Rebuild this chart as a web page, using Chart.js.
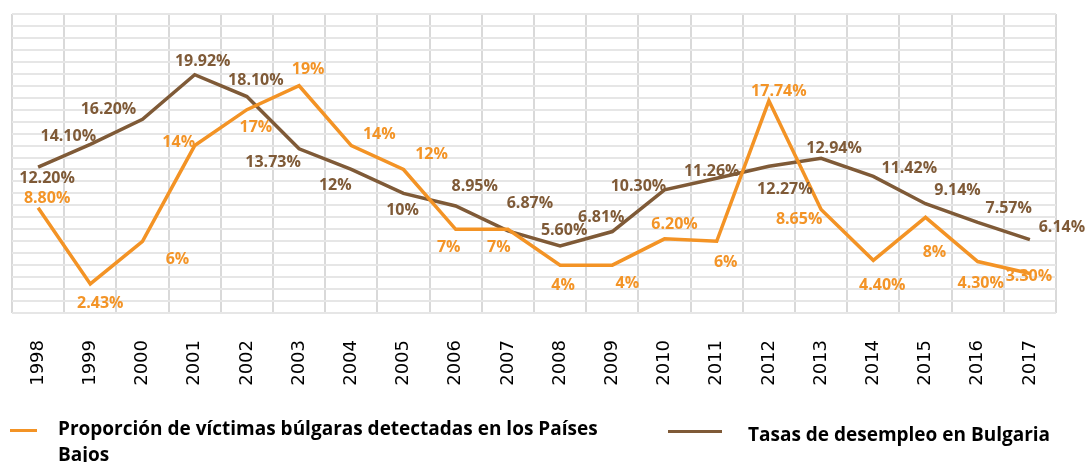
<!DOCTYPE html>
<html>
<head>
<meta charset="utf-8">
<script src="https://cdn.jsdelivr.net/npm/chart.js@4/dist/chart.umd.min.js"></script>
<style>
  body { margin: 0; background: #fff; }
  #wrap { position: relative; width: 1085px; height: 462px; }
  #legend { position: absolute; left: 0; top: 413px; width: 1085px; font: bold 19px "Open Sans", sans-serif; color: #000; }
  .item { position: absolute; line-height: 26px; }
  .sw { position: absolute; height: 3px; }
</style>
</head>
<body>
<div id="wrap">
  <canvas id="lineChart" width="1085" height="462"></canvas>
  <div id="legend"></div>
</div>
<script>
const years = ["1998", "1999", "2000", "2001", "2002", "2003", "2004", "2005", "2006", "2007",
  "2008", "2009", "2010", "2011", "2012", "2013", "2014", "2015", "2016", "2017"];

// Proporción de víctimas búlgaras (Países Bajos), %
const victimas = [8.80, 2.43, 6, 14, 17, 19, 14, 12, 7, 7, 4, 4, 6.20, 6, 17.74, 8.65, 4.40, 8, 4.30, 3.30];
const victimasLabels = ["8.80%", "2.43%", "6%", "14%", "17%", "19%", "14%", "12%", "7%", "7%",
  "4%", "4%", "6.20%", "6%", "17.74%", "8.65%", "4.40%", "8%", "4.30%", "3.30%"];

// Tasas de desempleo en Bulgaria, %
const desempleo = [12.20, 14.10, 16.20, 19.92, 18.10, 13.73, 12, 10, 8.95, 6.87,
  5.60, 6.81, 10.30, 11.26, 12.27, 12.94, 11.42, 9.14, 7.57, 6.14];
const desempleoLabels = ["12.20%", "14.10%", "16.20%", "19.92%", "18.10%", "13.73%", "12%", "10%", "8.95%", "6.87%",
  "5.60%", "6.81%", "10.30%", "11.26%", "12.27%", "12.94%", "11.42%", "9.14%", "7.57%", "6.14%"];

// desplazamiento de cada etiqueta respecto a su punto (px)
const victimasOffsets = [[9, -9], [10, 20], [35, 18], [-16, -3], [9, 18], [9, -16], [28, -11], [28, -15], [-7, 18], [-9, 18],
  [3, 20], [15, 18], [10, -14], [9, 21], [10, -9], [-22, 10], [9, 25], [9, 35], [3, 22], [-1, 3]];
const desempleoOffsets = [[9, 11], [-22, -8], [-34, -10], [8, -13], [9, -16], [-26, 14], [-16, 16], [-1, 17], [19, -20], [22, -27],
  [4, -16], [-11, -14], [-26, -3], [-5, -7], [16, 23], [13, -10], [36, -8], [32, -13], [31, -14], [32, -12]];

const naranja = "#f39325";
const marron = "#7f5a37";

// etiquetas de datos dibujadas junto a cada punto
const dataLabels = {
  id: "dataLabels",
  afterDatasetsDraw(chart) {
    const ctx = chart.ctx;
    ctx.save();
    ctx.font = "bold 16px 'Open Sans', sans-serif";
    ctx.textAlign = "center";
    ctx.textBaseline = "middle";
    chart.data.datasets.forEach((ds, i) => {
      const meta = chart.getDatasetMeta(i);
      ctx.fillStyle = ds.labelColor;
      meta.data.forEach((pt, j) => {
        const off = ds.offsets[j];
        ctx.fillText(ds.texts[j], pt.x + off[0], pt.y + off[1]);
      });
    });
    ctx.restore();
  }
};

const chart = new Chart(document.getElementById("lineChart").getContext("2d"), {
  type: "line",
  data: {
    labels: years,
    datasets: [
      {
        label: "Proporción de víctimas búlgaras detectadas en los Países Bajos",
        data: victimas,
        borderColor: naranja,
        backgroundColor: naranja,
        borderWidth: 3.5,
        pointRadius: 0,
        tension: 0,
        labelColor: "#f39427",
        texts: victimasLabels,
        offsets: victimasOffsets
      },
      {
        label: "Tasas de desempleo en Bulgaria",
        data: desempleo,
        borderColor: marron,
        backgroundColor: marron,
        borderWidth: 3.5,
        pointRadius: 0,
        tension: 0,
        labelColor: "#7f5a37",
        texts: desempleoLabels,
        offsets: desempleoOffsets
      }
    ]
  },
  options: {
    responsive: false,
    animation: false,
    layout: { padding: { left: 12, right: 29, top: 14, bottom: 69 } },
    plugins: {
      legend: { display: false },
      tooltip: { enabled: false }
    },
    scales: {
      x: {
        offset: true,
        grid: { offset: true, color: "#d9d9d9", lineWidth: 2, drawTicks: false },
        border: { display: false },
        ticks: {
          color: "#000",
          font: { family: "DejaVu Sans", size: 18 },
          minRotation: 90,
          maxRotation: 90,
          padding: 27,
          autoSkip: false
        },
        afterFit(scale) { scale.height = 80; }
      },
      y: {
        min: 0,
        max: 25,
        ticks: { display: false, stepSize: 1 },
        grid: { color: "#e6e6e6", lineWidth: 2, drawTicks: false },
        border: { display: false },
        afterFit(scale) { scale.width = 0; }
      }
    }
  },
  plugins: [dataLabels]
});

// leyenda
const legend = document.getElementById("legend");
const items = [
  { ds: 0, sw: [10, 16, 27], text: [58, 2, 560] },
  { ds: 1, sw: [668, 17, 54], text: [748, 8, 330] }
];
items.forEach(it => {
  const ds = chart.data.datasets[it.ds];
  const sw = document.createElement("div");
  sw.className = "sw";
  sw.style.left = it.sw[0] + "px";
  sw.style.top = it.sw[1] + "px";
  sw.style.width = it.sw[2] + "px";
  sw.style.background = ds.borderColor;
  legend.appendChild(sw);
  const t = document.createElement("div");
  t.className = "item";
  t.style.left = it.text[0] + "px";
  t.style.top = it.text[1] + "px";
  t.style.width = it.text[2] + "px";
  t.textContent = ds.label;
  legend.appendChild(t);
});
</script>
</body>
</html>
